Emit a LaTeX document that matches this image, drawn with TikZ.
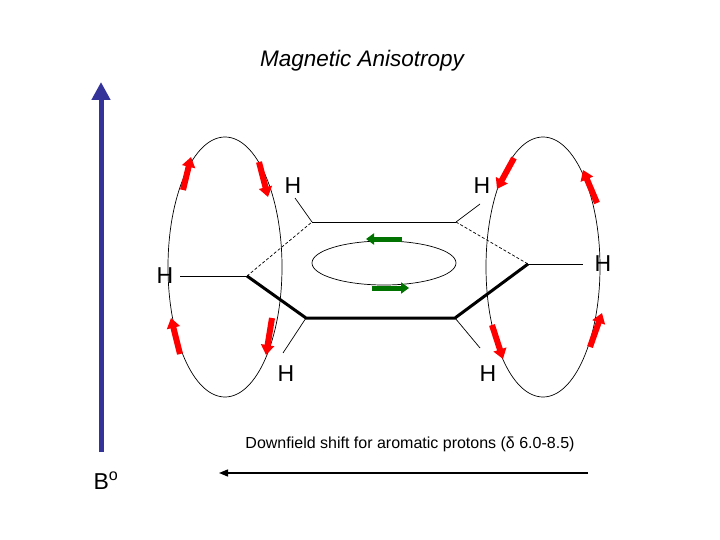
\documentclass[tikz,border=0pt]{standalone}
\usepackage{fontspec}
\setmainfont{Liberation Sans}
\usetikzlibrary{arrows.meta}
\begin{document}
\begin{tikzpicture}[x=1pt,y=-1pt,
  thin line/.style={line width=0.7pt},
  bond/.style={line width=0.7pt},
  thickbond/.style={line width=3pt},
  redarr/.style={draw=red,line width=6pt,-{Triangle[length=10pt,width=13pt]}},
  greenarr/.style={draw=green!45!black,line width=5pt,-{Triangle[length=8pt,width=11pt]}},
  hlab/.style={font=\fontsize{23}{27}\selectfont,inner sep=0pt}]
\useasboundingbox (0,0) rectangle (720,540);
\node[font=\itshape\fontsize{22.5}{27}\selectfont] (title) at (362,61) {Magnetic Anisotropy};
% field arrow
\coordinate (b0) at (101,452);
\coordinate (b1) at (101,82);
\draw[draw={rgb,255:red,51;green,51;blue,153},line width=5pt,-{Triangle[length=18pt,width=18pt]}] (b0) -- (b1);
\node[font=\fontsize{23}{27}\selectfont] (bo) at (106,481) {B\textsuperscript{o}};
% ellipses
\draw[thin line] (225,267) ellipse [x radius=57,y radius=130];
\draw[thin line] (543,267) ellipse [x radius=57,y radius=130];
\draw[thin line] (384,263) ellipse [x radius=72,y radius=22];
% hexagon
\coordinate (c1) at (312,222);
\coordinate (c2) at (456,222);
\coordinate (c3) at (528,264);
\coordinate (c4) at (455,318);
\coordinate (c5) at (306,318);
\coordinate (c6) at (247,276);
\draw[bond] (c1) -- (c2);
\draw[bond,dash pattern=on 3pt off 2pt] (c2) -- (c3);
\draw[bond,dash pattern=on 3pt off 2pt] (c6) -- (c1);
\draw[thickbond,line join=miter] (c3) -- (c4) -- (c5) -- (c6);
% hydrogens
\node[hlab] (h1) at (293,186) {H};
\node[hlab] (h2) at (482,186) {H};
\node[hlab] (h3) at (603,264) {H};
\node[hlab] (h4) at (488,374) {H};
\node[hlab] (h5) at (286,374) {H};
\node[hlab] (h6) at (165,276) {H};
\draw[bond] (c1) -- (295,198);
\draw[bond] (c2) -- (480,204);
\draw[bond] (c3) -- (583,264);
\draw[bond] (c4) -- (480,348);
\draw[bond] (c5) -- (283,353);
\draw[bond] (c6) -- (180,276);
% red arrows
\draw[redarr] (183,190) -- (191,157);
\draw[redarr] (259,162) -- (268,197);
\draw[redarr] (180,354) -- (171,318);
\draw[redarr] (272,318) -- (266,355);
\draw[redarr] (514,158) -- (497,189);
\draw[redarr] (597,203) -- (583,170);
\draw[redarr] (492,325) -- (503,359);
\draw[redarr] (590,347) -- (602,313);
% green arrows
\draw[greenarr] (402,239) -- (366,239);
\draw[greenarr] (372,288) -- (409,288);
% downfield
\node[font=\fontsize{16}{19}\selectfont] (df) at (410,444) {Downfield shift for aromatic protons (δ 6.0-8.5)};
\coordinate (d0) at (588,473);
\coordinate (d1) at (219,473);
\draw[line width=1.3pt,-{Triangle[length=9pt,width=7pt]}] (d0) -- (d1);
\end{tikzpicture}
\end{document}
